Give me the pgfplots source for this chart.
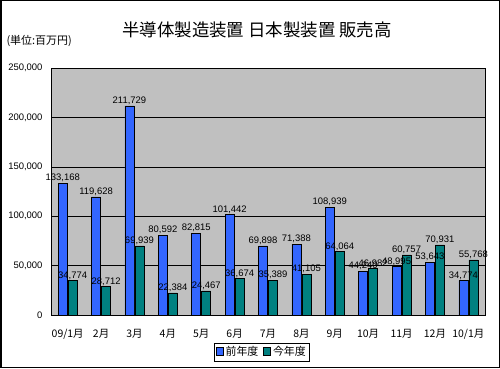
\documentclass[border=0pt]{standalone}
\usepackage{pgfplots}
\pgfplotsset{compat=1.18}
\usepackage{fontspec}
\setmainfont{Liberation Sans}
\newfontfamily\jp{Noto Sans CJK JP}
\definecolor{barblue}{RGB}{51,102,255}
\definecolor{barteal}{RGB}{0,128,128}
\definecolor{plotgray}{RGB}{192,192,192}
\begin{document}
\begin{tikzpicture}[x=1bp,y=1bp]
\useasboundingbox (0,0) rectangle (500,368);
\draw[line width=1.5bp] (0.75,0.75) rectangle (499.25,367.25);
\node[font=\jp\fontsize{17.5}{19}\selectfont] at (257,338) {半導体製造装置 日本製装置 販売高};
\node[font=\jp\fontsize{11}{12}\selectfont, anchor=west] at (3,327) {(単位:百万円)};
\begin{axis}[
  at={(51bp,53bp)}, anchor=south west,
  scale only axis, width=434bp, height=247bp,
  xmin=-0.5, xmax=12.5, ymin=0, ymax=250000,
  xtick={0,...,12},
  xticklabels={09/1月,2月,3月,4月,5月,6月,7月,8月,9月,10月,11月,12月,10/1月},
  xticklabel style={font=\jp\fontsize{10.5}{11}\selectfont, yshift=-6bp},
  minor xtick={-0.5,0.5,...,12.5},
  xtick style={draw=none},
  minor tick length=4bp,
  minor x tick style={black},
  ytick={0,50000,100000,150000,200000,250000},
  yticklabels={0,{50,000},{100,000},{150,000},{200,000},{250,000}},
  ymajorgrids, grid style={black, line width=0.6bp},
  scaled y ticks=false,
  yticklabel style={font=\fontsize{9.5}{10}\selectfont, xshift=-5bp},
  ytick style={draw=none},
  axis background/.style={fill=plotgray},
  axis line style={black, line width=0.8bp},
  ybar=1bp, bar width=9bp,
  nodes near coords,
  point meta=explicit symbolic,
  every node near coord/.append style={font=\fontsize{9.5}{10}\selectfont, black, inner sep=1bp},
  legend style={at={(0.486,-0.15)}, anchor=center, legend columns=2, draw=black, font=\jp\fontsize{11}{12}\selectfont, inner sep=1.5bp, /tikz/every even column/.append style={column sep=3bp}},
  legend image code/.code={\draw[#1, draw=black] (0bp,-3.5bp) rectangle (7bp,4.5bp);},
  clip=false,
]
\addplot[fill=barblue, draw=black, line width=0.6bp] coordinates {
(0,133168) [133,168] (1,119628) [119,628] (2,211729) [211,729] (3,80592) [80,592] (4,82815) [82,815] (5,101442) [101,442] (6,69898) [69,898] (7,71388) [71,388] (8,108939) [108,939] (9,44240) [44,240] (10,48995) [48,995] (11,53643) [53,643] (12,34774) [34,774]};
\addplot[fill=barteal, draw=black, line width=0.6bp] coordinates {
(0,34774) [34,774] (1,28712) [28,712] (2,69939) [69,939] (3,22384) [22,384] (4,24467) [24,467] (5,36674) [36,674] (6,35389) [35,389] (7,41105) [41,105] (8,64064) [64,064] (9,46982) [46,982] (10,60757) [60,757] (11,70931) [70,931] (12,55768) [55,768]};
\legend{前年度,今年度}
\end{axis}
\end{tikzpicture}
\end{document}
